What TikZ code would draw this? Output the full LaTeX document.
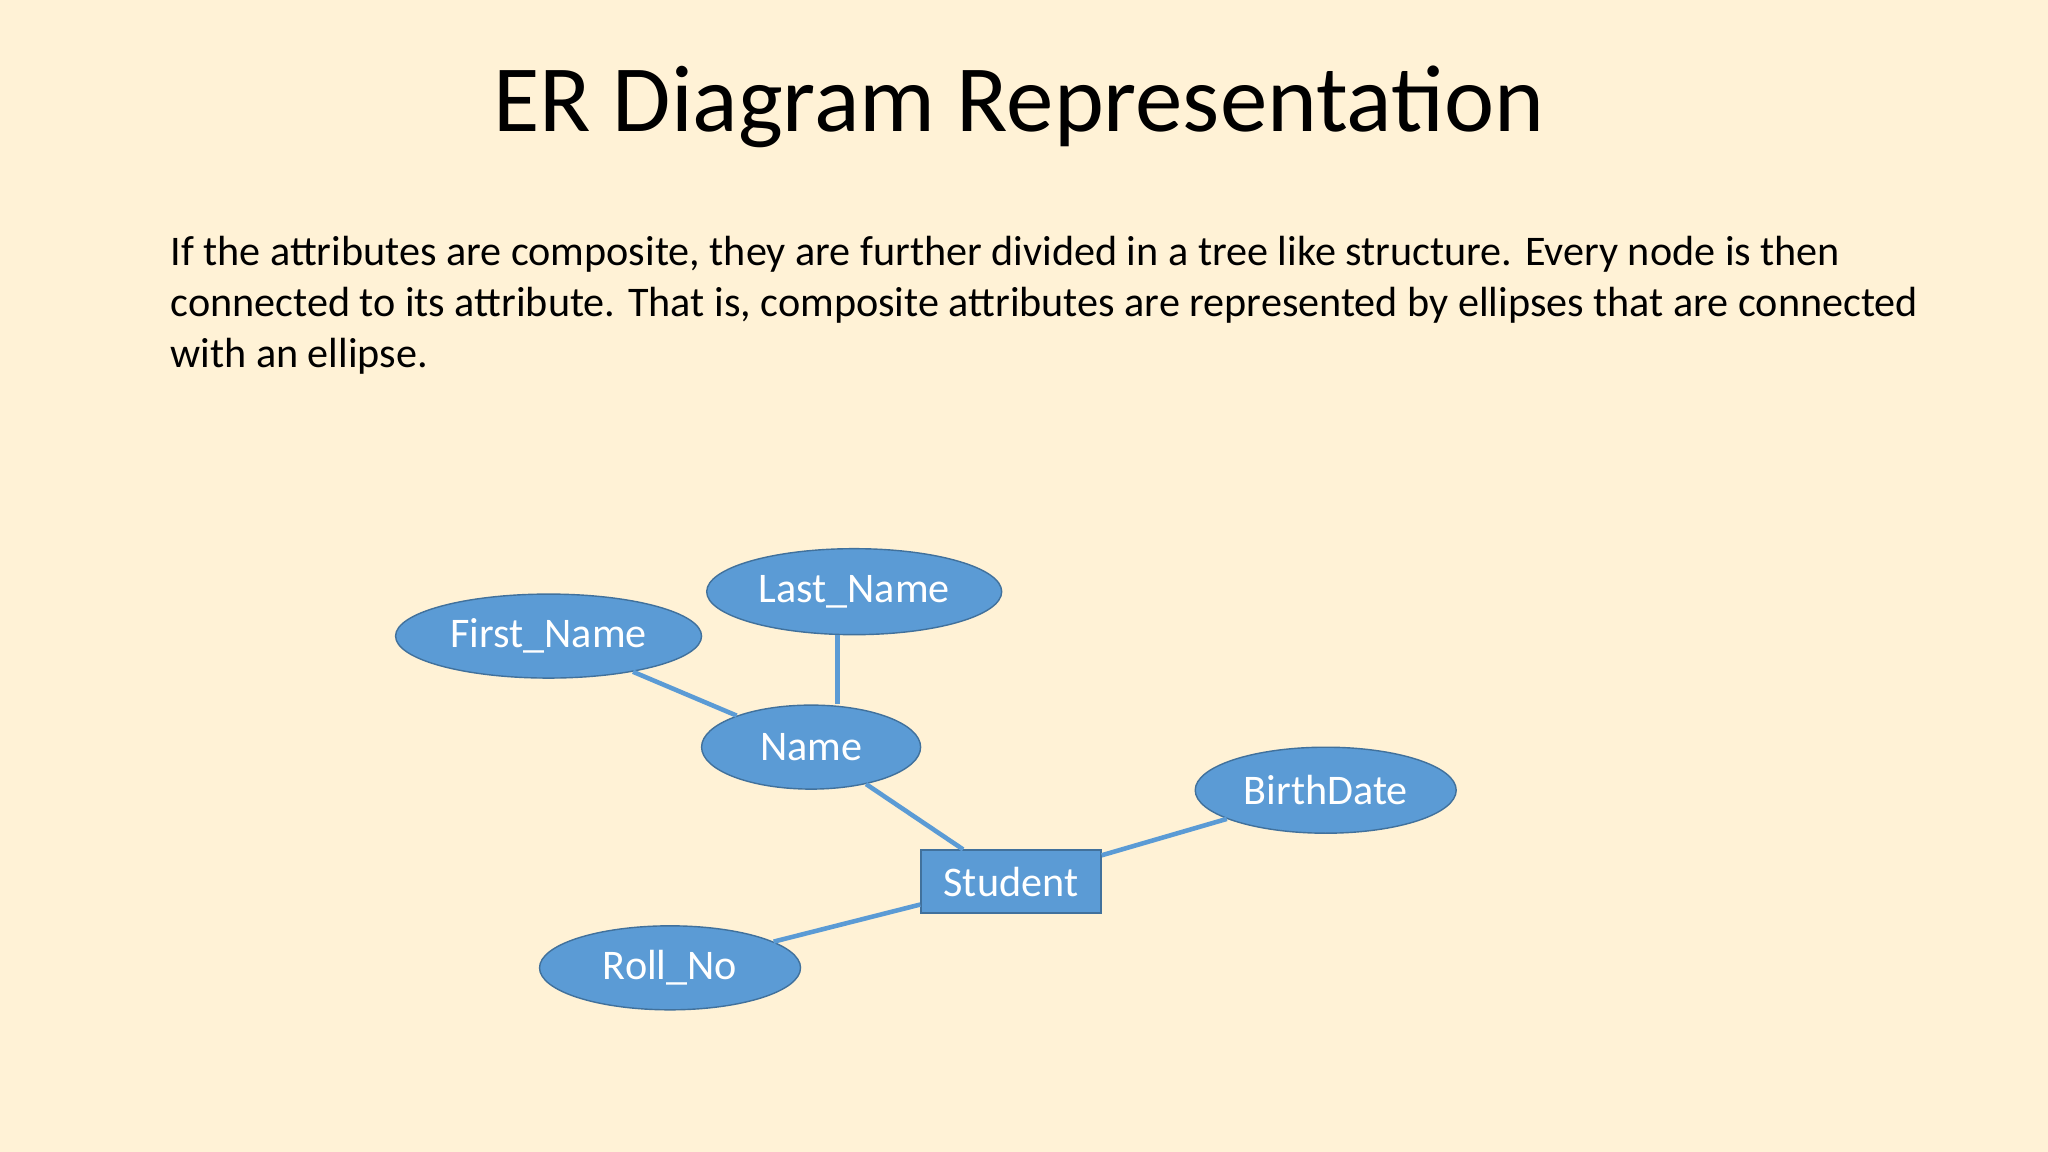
\documentclass[tikz,border=0pt]{standalone}
\usepackage{fontspec}
\setmainfont{Carlito}
\usetikzlibrary{shapes.geometric}
\definecolor{slideBg}{HTML}{FFF2D6}
\definecolor{attrFill}{HTML}{5B9BD5}
\definecolor{attrDraw}{HTML}{41719C}
\begin{document}
\begin{tikzpicture}[x=0.01306cm, y=-0.01306cm,
    attr/.style={ellipse, draw=attrDraw, fill=attrFill, text=white, font=\fontsize{12}{14}\selectfont, inner sep=0pt},
    entity/.style={rectangle, draw=attrDraw, fill=attrFill, text=white, font=\fontsize{12}{14}\selectfont, minimum width=1.8cm, minimum height=0.63cm},
    link/.style={draw=attrFill, line width=1.3pt}
]
\fill[slideBg] (0,0) rectangle (1568,882);

% Title and text
\node[font=\fontsize{27}{32}\selectfont] (title) at (780,82) {ER Diagram Representation};
\node[anchor=north west, align=left, inner sep=0pt, font=\fontsize{12}{14.6}\selectfont] (body) at (130,180)
  {If the attributes are composite, they are further divided in a tree like structure. Every node is then\\
   connected to its attribute. That is, composite attributes are represented by ellipses that are connected\\
   with an ellipse.};

% Attributes
\node[attr, minimum width=3.06cm, minimum height=0.84cm] (firstname) at (420,487) {First\_Name};
\node[attr, minimum width=2.95cm, minimum height=0.86cm] (lastname) at (654,453) {Last\_Name};
\node[attr, minimum width=2.19cm, minimum height=0.84cm] (name) at (621,572) {Name};
\node[attr, minimum width=2.61cm, minimum height=0.86cm] (birthdate) at (1015,605) {BirthDate};
\node[attr, minimum width=2.61cm, minimum height=0.84cm] (rollno) at (513,741) {Roll\_No};

% Entity
\node[entity] (student) at (774,675) {Student};

% Connections
\draw[link] (firstname) -- (name);
\draw[link] (lastname.south -| 641,0) -- (name.north -| 641,0);
\draw[link] (name) -- (student);
\draw[link] (student) -- (birthdate);
\draw[link] (student) -- (rollno);
\end{tikzpicture}
\end{document}
